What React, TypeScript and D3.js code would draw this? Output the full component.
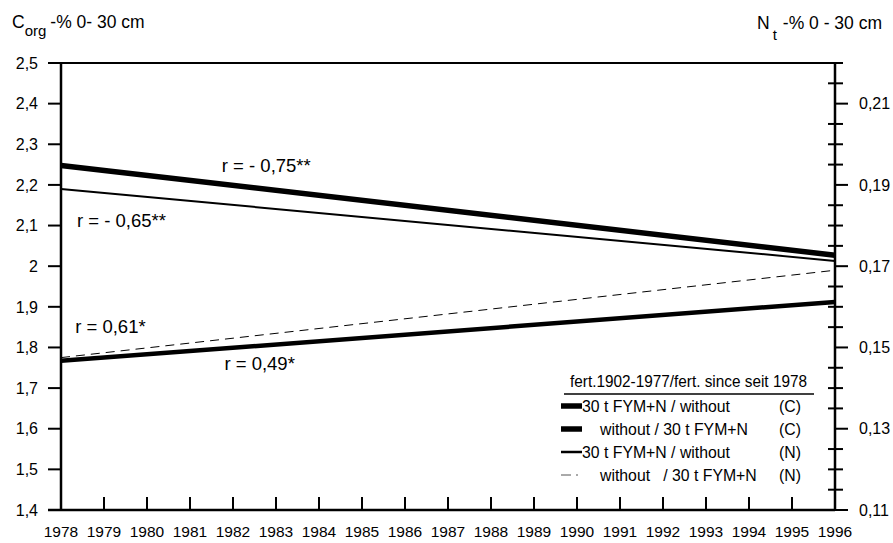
import React from "react";
import * as d3 from "d3";

const years = [1978, 1996];
const yearTicks = d3.range(1978, 1997);
const cFymWithout = [2.248, 2.027];
const cWithoutFym = [1.767, 1.912];
const nFymWithout = [0.189, 0.1713];
const nWithoutFym = [0.1475, 0.169];
const leftTicks = [1.4, 1.5, 1.6, 1.7, 1.8, 1.9, 2.0, 2.1, 2.2, 2.3, 2.4, 2.5];
const leftLabels = ["1,4", "1,5", "1,6", "1,7", "1,8", "1,9", "2", "2,1", "2,2", "2,3", "2,4", "2,5"];
const rightLabelVals = [0.11, 0.13, 0.15, 0.17, 0.19, 0.21];
const rightLabels = ["0,11", "0,13", "0,15", "0,17", "0,19", "0,21"];
const legendTitle = "fert.1902-1977/fert. since seit 1978";
const legendRows = [
  { name: "30 t FYM+N / without", tag: "(C)", w: 5.5, dash: "", indent: false },
  { name: "without / 30 t FYM+N", tag: "(C)", w: 5.5, dash: "", indent: true },
  { name: "30 t FYM+N / without", tag: "(N)", w: 2.5, dash: "", indent: false },
  { name: "without   / 30 t FYM+N", tag: "(N)", w: 1, dash: "10,5,2,9", indent: true },
];
const rLabels = [
  { text: "r = - 0,75**", year: 1981.74, v: 2.232 },
  { text: "r = - 0,65**", year: 1978.37, v: 2.096 },
  { text: "r = 0,61*", year: 1978.33, v: 1.836 },
  { text: "r = 0,49*", year: 1981.8, v: 1.745 },
];

const F = "'Liberation Sans', Arial, Helvetica, sans-serif";

export default function App() {
  const x = d3.scaleLinear().domain([1978, 1996]).range([61, 835]);
  const yC = d3.scaleLinear().domain([1.4, 2.5]).range([510, 63]);
  const yN = d3.scaleLinear().domain([0.11, 0.22]).range([510, 63]);
  const lineC = d3.line<number>().x((_, i) => x(years[i])).y((d) => yC(d));
  const lineN = d3.line<number>().x((_, i) => x(years[i])).y((d) => yN(d));
  const rightTicks = d3.range(0, 23).map((i) => 0.11 + i * 0.005);
  const labelIdx = (v: number) => rightLabelVals.findIndex((r) => Math.abs(r - v) < 1e-6);

  return (
    <svg width={893} height={543} style={{ position: "absolute", left: 0, top: 0, background: "#fff" }} fontFamily={F}>
      <rect x={0} y={0} width={893} height={543} fill="#fff" />
      {/* headers */}
      <text x={12} y={28} fontSize={17.5}>
        C<tspan fontSize={15} dy={8}>org</tspan>
        <tspan dy={-8} dx={4}>-% 0- 30 cm</tspan>
      </text>
      <text x={757} y={29} fontSize={17.5}>
        N<tspan fontSize={15} dy={11} dx={3}>t</tspan>
        <tspan dy={-11} dx={6}>-% 0 - 30 cm</tspan>
      </text>

      {/* frame */}
      <line x1={61} x2={835} y1={yC(2.5)} y2={yC(2.5)} stroke="#000" strokeWidth={2} />
      <line x1={48} x2={835} y1={510} y2={510} stroke="#000" strokeWidth={2.5} />
      <line x1={61} x2={61} y1={63} y2={511} stroke="#000" strokeWidth={2.5} />
      <line x1={835} x2={835} y1={63} y2={511} stroke="#000" strokeWidth={2.5} />

      {/* left ticks */}
      {leftTicks.map((v, i) => (
        <g key={"l" + i}>
          <line x1={48} x2={61} y1={yC(v)} y2={yC(v)} stroke="#000" strokeWidth={2} />
          <text x={38} y={yC(v)} dy="0.36em" textAnchor="end" fontSize={16}>{leftLabels[i]}</text>
        </g>
      ))}

      {/* right ticks */}
      {rightTicks.map((v, i) =>
        labelIdx(v) >= 0 ? (
          <g key={"r" + i}>
            <line x1={835} x2={848} y1={yN(v)} y2={yN(v)} stroke="#000" strokeWidth={2} />
            <text x={859} y={yN(v)} dy="0.36em" fontSize={16}>{rightLabels[labelIdx(v)]}</text>
          </g>
        ) : (
          <line key={"r" + i} x1={828} x2={843} y1={yN(v)} y2={yN(v)} stroke="#000" strokeWidth={2} />
        )
      )}

      {/* bottom ticks */}
      {yearTicks.map((yr) => (
        <g key={"x" + yr}>
          <line x1={x(yr)} x2={x(yr)} y1={510} y2={497} stroke="#000" strokeWidth={2} />
          <text x={x(yr)} y={537} textAnchor="middle" fontSize={15.5}>{yr}</text>
        </g>
      ))}

      {/* series */}
      <path d={lineC(cFymWithout) || ""} stroke="#000" strokeWidth={5.5} fill="none" />
      <path d={lineC(cWithoutFym) || ""} stroke="#000" strokeWidth={4.5} fill="none" />
      <path d={lineN(nFymWithout) || ""} stroke="#000" strokeWidth={2} fill="none" />
      <path d={lineN(nWithoutFym) || ""} stroke="#000" strokeWidth={1} strokeDasharray="9,6" fill="none" />

      {/* r labels */}
      {rLabels.map((r, i) => (
        <text key={"rl" + i} x={x(r.year)} y={yC(r.v)} fontSize={18.5}>{r.text}</text>
      ))}

      {/* legend */}
      <text x={570} y={387} fontSize={16} textLength={237} lengthAdjust="spacingAndGlyphs">{legendTitle}</text>
      <line x1={564} x2={814} y1={394} y2={394} stroke="#000" strokeWidth={1.5} />
      {legendRows.map((row, i) => {
        const cy = 406 + i * 23;
        return (
          <g key={"lg" + i}>
            <line x1={561} x2={582} y1={cy} y2={cy} stroke={i === 3 ? "#555" : "#000"} strokeWidth={row.w} strokeDasharray={row.dash || undefined} />
            <text x={row.indent ? 600 : 582} y={cy} dy="0.36em" fontSize={15.8} style={{ whiteSpace: "pre" }}>{row.name}</text>
            <text x={779} y={cy} dy="0.36em" fontSize={15.8}>{row.tag}</text>
          </g>
        );
      })}
    </svg>
  );
}
